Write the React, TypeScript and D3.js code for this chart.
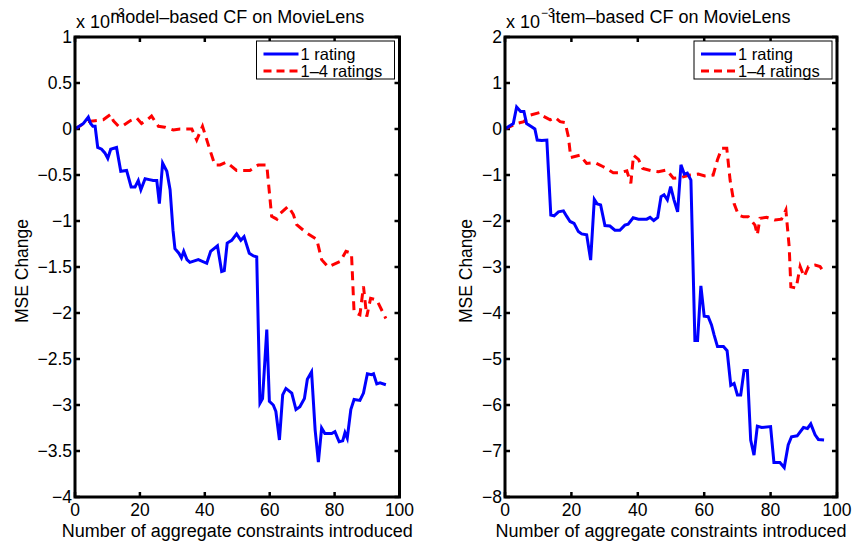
import React from "react";
import * as d3 from "d3";

// values, in units of 1e-3
const xTicks = [0, 20, 40, 60, 80, 100];
const modelTicks = [1, 0.5, 0, -0.5, -1, -1.5, -2, -2.5, -3, -3.5, -4];
const itemTicks = [2, 1, 0, -1, -2, -3, -4, -5, -6, -7, -8];
const legendLabels = ["1 rating", "1–4 ratings"];

const modelOne = [
  [0, 0], [2.6, 0.06], [4.1, 0.13], [4.8, 0.06], [5.5, 0.03], [6.2, 0.03], [7, -0.2],
  [8.2, -0.22], [9.2, -0.26], [10.1, -0.32], [11, -0.22], [12.8, -0.2], [14.1, -0.46],
  [15.9, -0.45], [17.3, -0.63], [18.5, -0.63], [19.5, -0.56], [20.3, -0.66], [21.6, -0.54],
  [22.9, -0.55], [24.1, -0.56], [25.2, -0.56], [26, -0.81], [27, -0.37], [28.3, -0.46],
  [29.3, -0.66], [30.2, -1.1], [30.8, -1.3], [32, -1.35], [32.8, -1.4], [33.5, -1.33],
  [34.5, -1.42], [35.4, -1.45], [38, -1.42], [40.6, -1.46], [41.8, -1.33], [43.9, -1.27],
  [45.2, -1.55], [46, -1.54], [46.9, -1.24], [48.3, -1.21], [49.8, -1.14], [51.1, -1.21],
  [52.1, -1.17], [53.7, -1.35], [55, -1.38], [56, -1.39], [57, -2.98], [57.8, -2.93],
  [59.1, -2.18], [59.9, -2.96], [61.1, -3.0], [61.9, -3.07], [63, -3.38], [64, -2.89],
  [65, -2.82], [66.8, -2.87], [68.1, -3.05], [69.3, -3.02], [70.7, -2.93], [71.6, -2.72],
  [72.9, -2.64], [74, -3.27], [75, -3.62], [76, -3.25], [77, -3.31], [79.1, -3.31],
  [80.1, -3.29], [81.4, -3.4], [82.5, -3.39], [83.2, -3.3], [83.9, -3.36], [85, -3.05],
  [86, -2.94], [87.8, -2.95], [88.9, -2.87], [90.1, -2.66], [91.4, -2.67], [92, -2.66],
  [93, -2.77], [94, -2.76], [95.8, -2.78],
];

const modelFour = [
  [0, 0], [3.6, 0.08], [6.2, 0.09], [8.7, 0.1], [11, 0.16], [11.8, 0.09], [13.4, 0.03],
  [14.9, 0.04], [17, 0.09], [19, 0.12], [20.5, 0.06], [22.3, 0.1], [23.6, 0.14],
  [25.7, 0.03], [27.7, 0.02], [30.3, -0.01], [32.4, 0], [36, 0], [37.5, -0.12],
  [39.3, 0.03], [41.6, -0.23], [43.1, -0.39], [44.7, -0.39], [46.7, -0.36], [49.8, -0.45],
  [53.9, -0.45], [56.5, -0.39], [59.1, -0.39], [60.6, -0.95], [62.2, -0.98], [63.2, -0.92],
  [65.7, -0.84], [67.3, -0.93], [68.3, -1.04], [71.4, -1.13], [74.5, -1.2], [76, -1.42],
  [78, -1.5], [81.7, -1.44], [83.5, -1.33], [85.2, -1.35], [86, -1.99], [87.8, -2.02],
  [88.9, -1.71], [89.9, -2.04], [91.1, -1.84], [93, -1.86], [95.8, -2.06],
];

const itemOne = [
  [0, 0], [2.5, 0.12], [3.5, 0.48], [4.7, 0.38], [5.7, 0.38], [6.5, 0.12], [8, 0.05],
  [9, 0], [9.7, -0.24], [11.1, -0.25], [12.6, -0.24], [13.8, -1.87], [14.8, -1.89],
  [16.1, -1.8], [17.6, -1.78], [18.6, -1.9], [19.6, -2.01], [20.8, -2.05], [22.1, -2.23],
  [23.1, -2.28], [24.6, -2.3], [25.8, -2.85], [26.9, -1.53], [27.8, -1.63], [28.8, -1.65],
  [30.1, -2.1], [31.6, -2.11], [33.1, -2.2], [34.6, -2.2], [36.1, -2.09], [37.1, -2.07],
  [38.6, -1.93], [40.2, -1.96], [42.7, -1.96], [43.7, -1.92], [44.8, -1.99], [46, -1.92],
  [47, -1.47], [47.9, -1.43], [48.9, -1.54], [49.9, -1.25], [50.9, -1.54], [52, -1.8],
  [53, -0.78], [54, -0.98], [54.9, -0.96], [56, -1.11], [57.2, -4.6], [58, -4.6],
  [59, -3.41], [60, -4.07], [61.2, -4.08], [62.2, -4.26], [63, -4.48], [64, -4.73],
  [65.8, -4.73], [66.9, -4.82], [68, -5.57], [69, -5.53], [70, -5.78], [71, -5.78],
  [72, -5.25], [73, -5.25], [74, -6.76], [75, -7.09], [76, -6.46], [77.3, -6.49],
  [80, -6.47], [81, -7.25], [82.8, -7.25], [84.1, -7.36], [85.3, -6.87], [86.3, -6.69],
  [88, -6.67], [89.9, -6.49], [91.1, -6.51], [92.1, -6.41], [93.4, -6.65], [94.4, -6.75],
  [96.1, -6.76],
];

const itemFour = [
  [0, 0], [3.5, 0.12], [5.7, 0.16], [7.5, 0.3], [10.5, 0.36], [11.5, 0.28], [13.6, 0.2],
  [15.1, 0.25], [16.6, 0.16], [18.1, 0.14], [19.1, -0.17], [19.8, -0.62], [22.6, -0.57],
  [24.6, -0.75], [27.1, -0.73], [29.6, -0.82], [32.6, -0.95], [34.5, -0.95], [36.7, -0.91],
  [37.9, -1.18], [38.7, -0.57], [40.2, -0.66], [41.5, -0.86], [44.2, -0.91], [46.2, -0.93],
  [48.7, -0.89], [50.7, -1.07], [53.2, -1.05], [55.7, -1.0], [58.2, -0.98], [60.2, -1.02],
  [62.7, -1.0], [64, -0.67], [65.3, -0.42], [66.8, -0.42], [67.8, -1.11], [69, -1.62],
  [70.3, -1.87], [71.8, -1.91], [73.3, -1.91], [75.3, -2.09], [76, -2.3], [76.8, -1.94],
  [78.8, -1.92], [81.3, -1.98], [83.3, -1.96], [84.6, -1.76], [85.6, -2.56], [86.1, -3.43],
  [87.7, -3.46], [88.9, -2.99], [90.1, -3.21], [91.4, -2.99], [93.4, -2.96], [94.9, -2.99],
  [96.4, -3.15],
];

const font = "'Liberation Sans', Arial, sans-serif";
const top = 37;
const bottom = 497;
const fmt = (d: number) => (d < 0 ? "\u2212" + String(-d) : String(d));

function Panel({ left, right, title, yTicks, one, four, labelGap }: any) {
  const x = d3.scaleLinear().domain([0, 100]).range([left, right]);
  const y = d3
    .scaleLinear()
    .domain([yTicks[yTicks.length - 1], yTicks[0]])
    .range([bottom, top]);
  const line = d3
    .line<number[]>()
    .x((d) => x(d[0]))
    .y((d) => y(d[1]));
  const cx = (left + right) / 2;
  const lx = right - 143;

  return (
    <g fontFamily={font} fill="black">
      {/* ticks on all four sides, pointing in */}
      {xTicks.map((t) => (
        <g key={"x" + t}>
          <line x1={x(t)} x2={x(t)} y1={bottom} y2={bottom - 5} stroke="black" strokeWidth={2.5} />
          <line x1={x(t)} x2={x(t)} y1={top} y2={top + 5} stroke="black" strokeWidth={2.5} />
          <text x={x(t)} y={516} fontSize={17.5} textAnchor="middle">{t}</text>
        </g>
      ))}
      {yTicks.map((t: number) => (
        <g key={"y" + t}>
          <line x1={left} x2={left + 5} y1={y(t)} y2={y(t)} stroke="black" strokeWidth={2.5} />
          <line x1={right} x2={right - 5} y1={y(t)} y2={y(t)} stroke="black" strokeWidth={2.5} />
          <text x={left - 3} y={y(t) + 6} fontSize={17.5} textAnchor="end">{fmt(t)}</text>
        </g>
      ))}

      <path d={line(four) || ""} fill="none" stroke="#ff0000" strokeWidth={3} strokeDasharray="9,6" />
      <path d={line(one) || ""} fill="none" stroke="#0000ff" strokeWidth={3} />

      <rect x={left} y={top} width={right - left} height={bottom - top} fill="none" stroke="black" strokeWidth={3} />

      <g>
        <rect x={lx} y={41} width={138} height={38} fill="white" stroke="black" strokeWidth={1} />
        <line x1={lx + 7} x2={lx + 42} y1={54} y2={54} stroke="#0000ff" strokeWidth={3} />
        <line x1={lx + 7} x2={lx + 42} y1={71} y2={71} stroke="#ff0000" strokeWidth={3} strokeDasharray="8,5" />
        <text x={lx + 44} y={60} fontSize={16.5}>{legendLabels[0]}</text>
        <text x={lx + 44} y={77} fontSize={16.5}>{legendLabels[1]}</text>
      </g>

      <text x={left + 1} y={28} fontSize={18}>x 10</text>
      <text x={left + 36} y={17} fontSize={12}>{"\u22123"}</text>
      <text x={cx} y={23} fontSize={18} textAnchor="middle">{title}</text>

      <text x={cx} y={537} fontSize={18} textAnchor="middle">Number of aggregate constraints introduced</text>
      <text
        transform={`translate(${left - labelGap},${(top + bottom) / 2 + 4}) rotate(-90)`}
        fontSize={17.5}
        textAnchor="middle"
      >
        MSE Change
      </text>
    </g>
  );
}

export default function App() {
  return (
    <svg width={852} height={543} style={{ position: "absolute", left: 0, top: 0, background: "white" }}>
      <Panel left={75} right={399.5} labelGap={47} title="model–based CF on MovieLens" yTicks={modelTicks} one={modelOne} four={modelFour} />
      <Panel left={505} right={837} labelGap={33} title="item–based CF on MovieLens" yTicks={itemTicks} one={itemOne} four={itemFour} />
    </svg>
  );
}
